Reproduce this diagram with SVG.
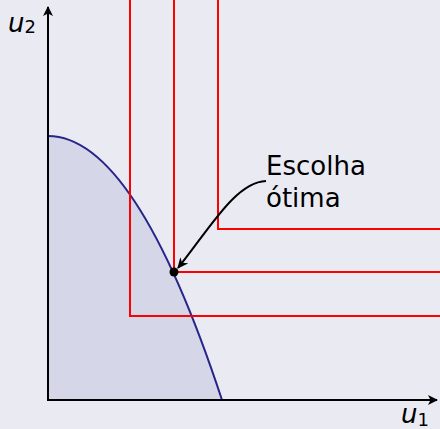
<svg xmlns="http://www.w3.org/2000/svg" width="440" height="429" viewBox="0 0 440 429">
<defs>
<style>
.txt{font-family:"DejaVu Sans",sans-serif;fill:#000}
.math{font-family:"DejaVu Sans",sans-serif;font-style:italic;fill:#000}
.red{fill:none;stroke:#ff0000;stroke-width:2}
.axis{fill:none;stroke:#000;stroke-width:2}
</style>
<marker id="ah" viewBox="0 0 10 10" refX="9" refY="5" markerWidth="10" markerHeight="10" markerUnits="userSpaceOnUse" orient="auto">
<path d="M0,0 L10,5 L0,10 L2.5,5 Z" fill="#000"/>
</marker>
<marker id="ah2" viewBox="0 0 10 10" refX="9" refY="5" markerWidth="11" markerHeight="11" markerUnits="userSpaceOnUse" orient="auto">
<path d="M0,0.5 L10,5 L0,9.5 L3,5 Z" fill="#000"/>
</marker>
</defs>
<rect width="440" height="429" fill="#eaeaf2"/>
<g id="region">
<path d="M48,136 Q135,136 222,400 L48,400 Z" fill="#d5d6e7"/>
<path d="M48,136 Q135,136 222,400" fill="none" stroke="#26268a" stroke-width="2"/>
</g>
<g id="indifference">
<path class="red" d="M130,0 V316 H440"/>
<path class="red" d="M174,0 V272 H440"/>
<path class="red" d="M218,0 V229 H440"/>
</g>
<g id="axes">
<path class="axis" d="M48,401 V7" marker-end="url(#ah)"/>
<path class="axis" d="M47,400 H437" marker-end="url(#ah)"/>
<text class="math" x="8" y="32" font-size="26">u<tspan font-style="normal" font-size="18" dy="1">2</tspan></text>
<text class="math" x="401" y="423" font-size="26">u<tspan font-style="normal" font-size="18" dy="3">1</tspan></text>
</g>
<g id="optimum">
<circle cx="174" cy="272" r="4.5" fill="#000"/>
</g>
<g id="label">
<text class="txt" x="266" y="175" font-size="26">Escolha</text>
<text class="txt" x="266" y="207" font-size="26">ótima</text>
</g>
<g id="connectors">
<path d="M266,181 C236,182 210,228 178,268" fill="none" stroke="#000" stroke-width="2" marker-end="url(#ah2)"/>
</g>
</svg>
